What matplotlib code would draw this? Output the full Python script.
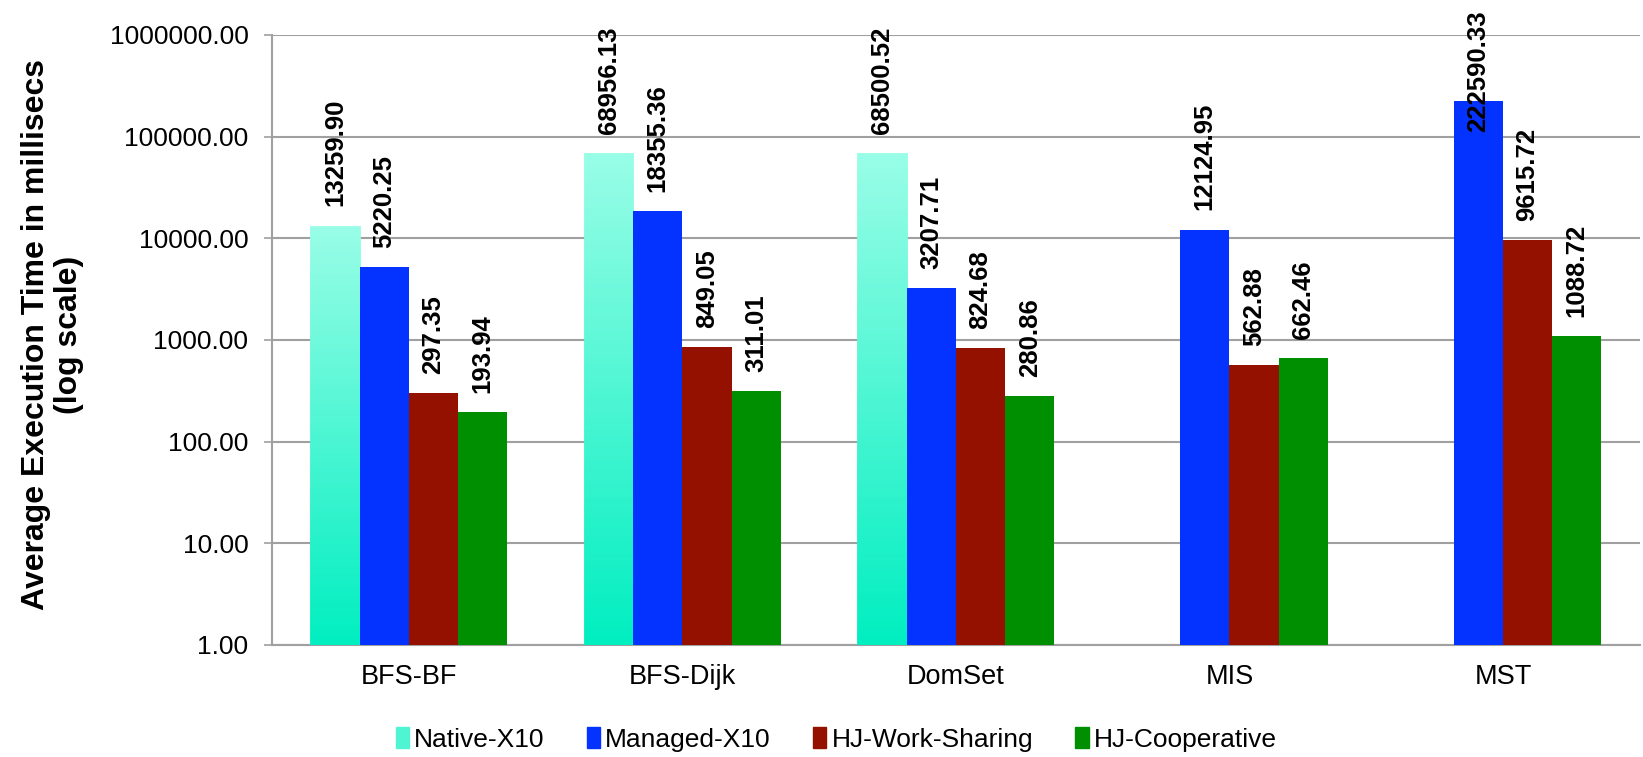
import matplotlib
matplotlib.use('Agg')
import matplotlib.pyplot as plt
import matplotlib.colors as mcolors
import numpy as np

plt.rcParams['font.family'] = ['Liberation Sans', 'DejaVu Sans']

categories = ['BFS-BF', 'BFS-Dijk', 'DomSet', 'MIS', 'MST']
series_names = ['Native-X10', 'Managed-X10', 'HJ-Work-Sharing', 'HJ-Cooperative']
native_x10 = [13259.90, 68956.13, 68500.52, np.nan, np.nan]
managed_x10 = [5220.25, 18355.36, 3207.71, 12124.95, 222590.33]
hj_work_sharing = [297.35, 849.05, 824.68, 562.88, 9615.72]
hj_cooperative = [193.94, 311.01, 280.86, 662.46, 1088.72]
y_ticks = [1, 10, 100, 1000, 10000, 100000, 1000000]

all_series = [native_x10, managed_x10, hj_work_sharing, hj_cooperative]
colors = ['#00EEC0', '#0433FF', '#941100', '#008F00']
grad_top = '#98FDE6'
grad_bottom = '#00EEC0'

fig = plt.figure(figsize=(16.43, 7.57), dpi=100)
ax = fig.add_axes([0.1656, 0.148, 0.8324, 0.8058])

x = np.arange(len(categories))
width = 0.18
grid_col = '#A0A0A0'

for i, (vals, col) in enumerate(zip(all_series, colors)):
    xpos = x + (i - 1.5) * width
    if i == 0:
        # gradient bars: stack many thin slices, light at top, saturated at bottom
        cmap = mcolors.LinearSegmentedColormap.from_list('g', [grad_bottom, grad_top])
        for xp, v in zip(xpos, vals):
            if np.isnan(v):
                continue
            edges = np.geomspace(1, v, 81)
            for k in range(80):
                c = cmap(k / 79)
                ax.bar(xp, edges[k + 1] - edges[k], width, bottom=edges[k],
                       color=c, edgecolor=c, linewidth=0.6, zorder=3)
    else:
        ax.bar(xpos, vals, width, bottom=1, color=col, linewidth=0, zorder=3)
    for xp, v in zip(xpos, vals):
        if np.isnan(v):
            continue
        off = 14 if v < 1e5 else -22
        ax.annotate('%.2f' % v, (xp, v), xytext=(0, off), textcoords='offset points',
                    rotation=90, ha='center', va='bottom', fontsize=18.5,
                    fontweight='bold', zorder=5, annotation_clip=False)

ax.set_yscale('log')
ax.set_ylim(1, 1000000)
ax.set_xlim(-0.5, len(categories) - 0.5)
ax.set_yticks(y_ticks)
ax.set_yticklabels(['%.2f' % t for t in y_ticks], fontsize=19)
ax.yaxis.set_minor_locator(matplotlib.ticker.NullLocator())
ax.set_xticks(x)
ax.set_xticklabels(categories, fontsize=19.5)
ax.tick_params(axis='x', length=0, pad=14)
ax.tick_params(axis='y', length=6, width=1.2, color=grid_col, pad=11)
ax.grid(axis='y', color=grid_col, linewidth=1.5, zorder=0)
for s in ['top', 'right']:
    ax.spines[s].set_visible(False)
for s in ['left', 'bottom']:
    ax.spines[s].set_color(grid_col)
    ax.spines[s].set_linewidth(1.5)

fig.text(0.032, 0.5575, 'Average Execution Time in millisecs\n(log scale)',
         rotation=90, ha='center', va='center', multialignment='center',
         fontsize=23, fontweight='bold', linespacing=1.1)

handles = [plt.Rectangle((0, 0), 1, 1, color=c) for c in ['#4FF5D2'] + colors[1:]]
fig.legend(handles, series_names, loc='center', bbox_to_anchor=(0.509, 0.023),
           ncol=4, frameon=False, fontsize=19, handlelength=0.5, handleheight=0.8,
           handletextpad=0.2, columnspacing=1.6)

fig.savefig('out.png', dpi=100)
